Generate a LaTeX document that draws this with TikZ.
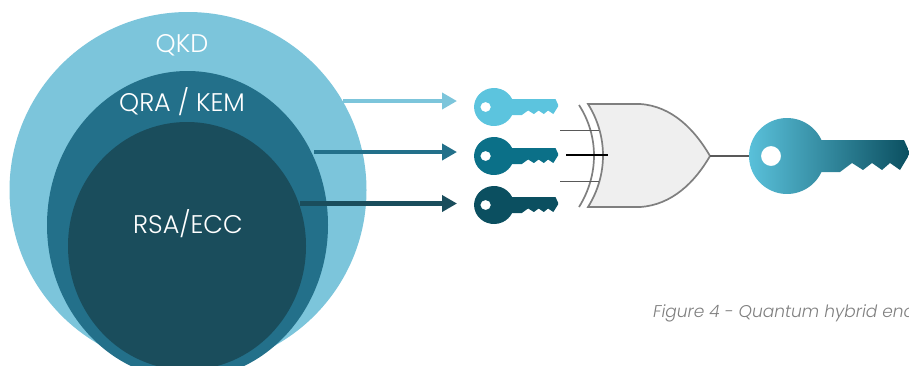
\documentclass[tikz,border=0pt]{standalone}
\usepackage{fontspec}
\setmainfont{Poppins}[UprightFont=* Light, ItalicFont=* Light Italic]
\usepackage{xcolor}
\definecolor{qkdBack}   {HTML}{7CC5DB}
\definecolor{qraBack}   {HTML}{23708A}
\definecolor{rsaBack}   {HTML}{1A4D5C}
\definecolor{keyLight}  {HTML}{5CC4DE}
\definecolor{keyMid}    {HTML}{0B7088}
\definecolor{keyDark}   {HTML}{0B4F60}
\definecolor{gateBack}  {HTML}{EFEFEF}
\definecolor{gateLine}  {HTML}{7F7F7F}
\definecolor{capText}   {HTML}{7F7F7F}
\usetikzlibrary{arrows.meta, shapes.geometric}
\tikzset{
    disc/.style={ellipse, inner sep=0pt},
    disclabel/.style={inner sep=0pt, text=white, font=\fontsize{25.5}{30}\selectfont},
    keyarrow/.style={-{Triangle[length=15pt, width=16pt]}, line width=4.5pt},
    gatewire/.style={-, line width=1.5pt, gateLine!70!black},
    gateedge/.style={line width=1.7pt, gateLine},
    keyshape/.pic={
        \path[even odd rule, pic actions]
            (34.47,-16) arc[start angle=-24.9, end angle=-335.1, radius=38]
            -- (53,16) -- (65,7) -- (76,14) -- (85,7) -- (95,14) -- (103,7)
            -- (113,14) -- (122,-1) -- (122,-5) -- (117,-16) -- cycle
            (-6,0) arc[start angle=0, end angle=360, radius=10];
    },
}
\begin{document}
\begin{tikzpicture}[x=1pt, y=-1pt]
    \useasboundingbox (0,0) rectangle (909,365);
    \clip (0,0) rectangle (909,365);
    \node[disc, fill=qkdBack, minimum width=357pt, minimum height=356pt] (qkd) at (188,190) {};
    \node[disc, fill=qraBack, minimum width=281pt, minimum height=308pt] (qra) at (187.5,225) {};
    \node[disc, fill=rsaBack, minimum width=238pt, minimum height=248pt] (rsa) at (187,246) {};
    \node[disclabel] (qkdlabel) at (182,45) {QKD};
    \node[disclabel] (qralabel) at (182,102) {QRA / KEM};
    \node[disclabel] (rsalabel) at (188,224) {RSA/ECC};

    \coordinate (qkdout) at (343,101);
    \coordinate (qraout) at (314,152);
    \coordinate (rsaout) at (300,203.5);
    \coordinate (keyain) at (457,101);
    \coordinate (keybin) at (457,152);
    \coordinate (keycin) at (457,203.5);
    \draw[keyarrow, qkdBack] (qkdout) -- (keyain);
    \draw[keyarrow, qraBack] (qraout) -- (keybin);
    \draw[keyarrow, rsaBack] (rsaout) -- (keycin);

    \pic[fill=keyLight, xscale=.525, yscale=.5] (keya) at (494,107) {keyshape};
    \pic[fill=keyMid, xscale=.525, yscale=.5] (keyb) at (494,156) {keyshape};
    \pic[fill=keyDark, xscale=.525, yscale=.5] (keyc) at (494,205) {keyshape};

    \coordinate (gatea) at (599,130.5);
    \coordinate (gatec) at (599,181.5);
    \coordinate (wirea) at (560,130.5);
    \coordinate (wirec) at (560,181.5);
    \coordinate (gateb) at (608,155);
    \coordinate (wireb) at (566,155);
    \coordinate (gatetip) at (710,156);
    \coordinate (bigbow) at (749,156);
    \draw[gateedge, fill=gateBack] (588,104) -- (640,104)
        .. controls (672,106) and (695,130) .. (gatetip)
        .. controls (695,182) and (672,205) .. (640,207) -- (588,207)
        .. controls (608,175) and (608,136) .. cycle;
    \draw[gateedge] (579,105) .. controls (599,136) and (599,175) .. (579,207);
    \draw[gatewire] (wirea) -- (gatea);
    \draw[gatewire] (wirec) -- (gatec);
    \draw[-, line width=1.5pt, black] (wireb) -- (gateb);
    \draw[gatewire] (gatetip) -- (bigbow);

    \pic[left color=keyLight, right color=keyDark] (bigkey) at (787,156) {keyshape};

    \node[anchor=base west, inner sep=0pt, text=capText,
          font=\fontsize{17}{20}\selectfont\itshape] (caption) at (653,317)
        {Figure 4 - Quantum hybrid enc};
\end{tikzpicture}
\end{document}
